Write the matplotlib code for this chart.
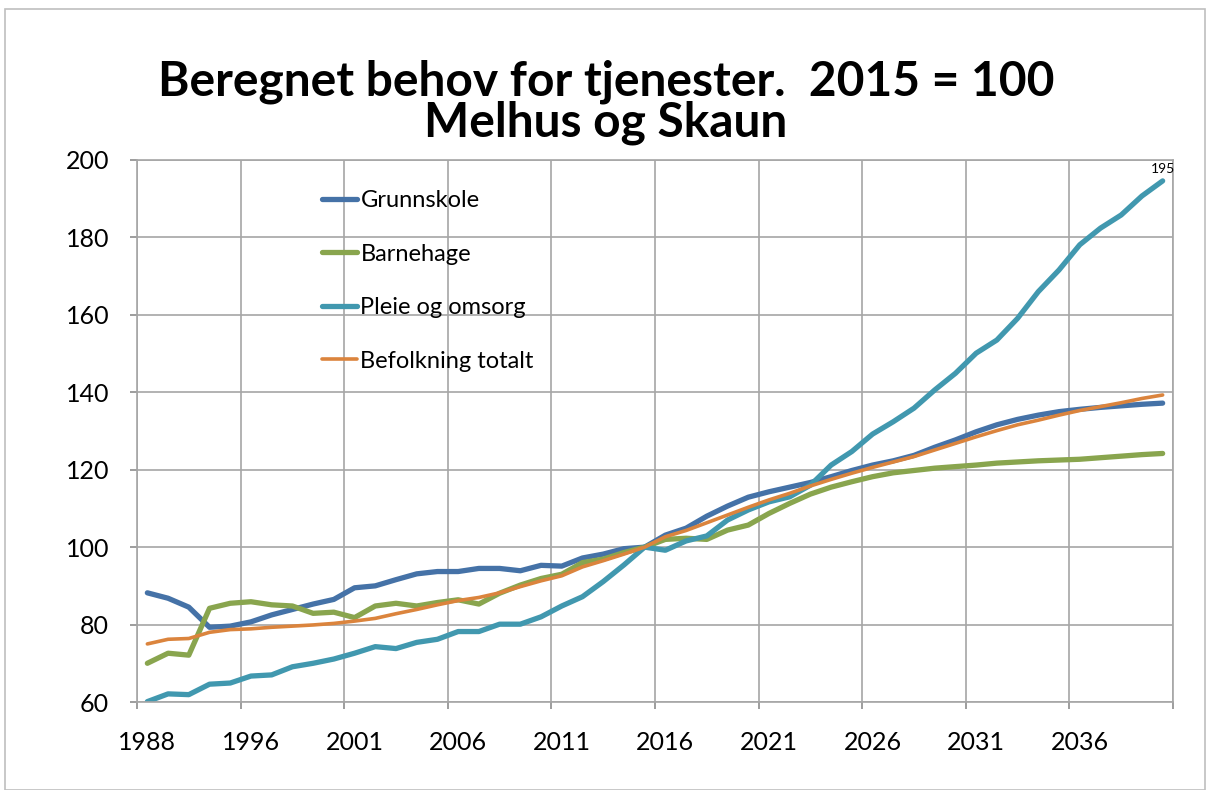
import numpy as np
import matplotlib
matplotlib.use("Agg")
import matplotlib.pyplot as plt
from matplotlib.patches import Rectangle

plt.rcParams['font.family'] = ['Lato', 'DejaVu Sans']

# categories (only every 5th is labelled on the axis)
years = [1988, 1990, 1992, 1994, 1995] + list(range(1996, 2041))

grunnskole = [88.2, 86.8, 84.5, 79.3, 79.6, 80.7, 82.5, 83.9, 85.3, 86.5,
              89.5, 90.0, 91.6, 93.1, 93.7, 93.7, 94.5, 94.5, 93.9, 95.3,
              95.1, 97.2, 98.2, 99.6, 100.0, 103.1, 104.9, 108.0, 110.6, 112.9,
              114.3, 115.5, 116.7, 118.2, 119.8, 121.2, 122.3, 123.7, 125.8, 127.7,
              129.8, 131.6, 133.0, 134.1, 135.0, 135.6, 136.1, 136.5, 136.9, 137.2]
barnehage = [70.0, 72.6, 72.1, 84.2, 85.5, 85.9, 85.1, 84.8, 82.9, 83.2,
             81.8, 84.8, 85.5, 84.8, 85.7, 86.4, 85.3, 88.1, 90.2, 91.9,
             93.0, 96.0, 96.9, 98.6, 100.0, 102.0, 102.3, 102.0, 104.4, 105.7,
             108.7, 111.3, 113.7, 115.5, 116.9, 118.2, 119.2, 119.8, 120.4, 120.8,
             121.2, 121.7, 122.0, 122.3, 122.5, 122.7, 123.1, 123.5, 123.9, 124.2]
pleie = [60.1, 62.1, 61.9, 64.6, 64.9, 66.7, 67.0, 69.1, 70.0, 71.1,
         72.6, 74.3, 73.8, 75.4, 76.2, 78.2, 78.2, 80.1, 80.1, 82.0,
         84.8, 87.2, 91.1, 95.4, 100.0, 99.2, 101.6, 102.9, 107.0, 109.6,
         111.7, 113.0, 116.0, 121.2, 124.7, 129.2, 132.4, 135.9, 140.6, 144.9,
         150.1, 153.5, 159.1, 166.0, 171.6, 178.1, 182.4, 185.8, 190.7, 194.6]
befolkning = [75.0, 76.2, 76.4, 78.0, 78.7, 78.9, 79.3, 79.6, 79.9, 80.3,
              80.9, 81.6, 82.8, 83.9, 85.1, 86.2, 87.0, 88.2, 89.8, 91.3,
              92.6, 94.9, 96.5, 98.2, 100.0, 102.7, 104.3, 106.3, 108.3, 110.3,
              112.2, 113.9, 115.8, 117.5, 119.1, 120.6, 122.0, 123.4, 125.1, 126.8,
              128.5, 130.1, 131.6, 132.8, 134.1, 135.3, 136.3, 137.3, 138.4, 139.3]

series = [("Grunnskole", grunnskole, "#4572A7", 3.8),
          ("Barnehage", barnehage, "#89A54E", 3.8),
          ("Pleie og omsorg", pleie, "#4198AF", 3.8),
          ("Befolkning totalt", befolkning, "#DB843D", 2.6)]

fig = plt.figure(figsize=(12.12, 7.90), dpi=100)
fig.patches.append(Rectangle((0.004, 0.0), 0.99, 0.989, transform=fig.transFigure,
                             fill=False, edgecolor="#BFBFBF", linewidth=1.2))
ax = fig.add_axes([137/1212, 1 - 702/790, 1036/1212, 542/790])

x = np.arange(len(years))
for name, vals, col, lw in series:
    ax.plot(x, vals, color=col, linewidth=lw, label=name,
            solid_capstyle='round', solid_joinstyle='round')

ax.annotate("195", (x[-1], pleie[-1]), xytext=(0, 4), textcoords="offset points",
            ha="center", va="bottom", fontsize=10)

ax.set_xlim(-0.5, len(years) - 0.5)
ax.set_ylim(60, 200)
ax.set_yticks(range(60, 201, 20))
ax.set_xticks(x[::5], [str(y) for y in years[::5]])
ax.set_xticks(np.arange(-0.5, len(years), 5), minor=True)
ax.tick_params(axis='x', which='major', length=0, pad=21, labelsize=18)
ax.tick_params(axis='x', which='minor', length=5, color="#8C8C8C", width=1.2)
ax.tick_params(axis='y', length=5, color="#8C8C8C", width=1.2, pad=15, labelsize=18)
ax.grid(True, axis='x', which='minor', color="#A6A6A6", linewidth=1.2)
ax.grid(True, axis='y', which='major', color="#A6A6A6", linewidth=1.2)
ax.set_axisbelow(True)
for s in ax.spines.values():
    s.set_color("#A6A6A6")
    s.set_linewidth(1.2)

ax.legend(loc='upper left', bbox_to_anchor=((322 - 137)/1036, (702 - 190)/542),
          frameon=False, fontsize=17, handlelength=1.5, handletextpad=0.13,
          labelspacing=1.38, borderpad=0, borderaxespad=0)

fig.text(0.5, 0.896, "Beregnet behov for tjenester.  2015 = 100", ha="center",
         va="center", fontsize=34.5, fontweight="bold")
fig.text(0.5, 0.845, "Melhus og Skaun", ha="center", va="center",
         fontsize=34.5, fontweight="bold")

fig.savefig("out.png", dpi=100)
